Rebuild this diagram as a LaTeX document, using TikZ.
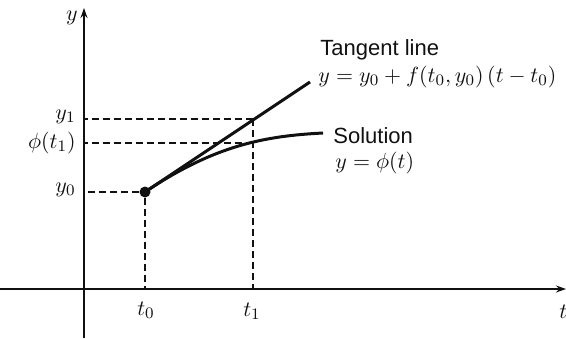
\documentclass[tikz,border=0pt]{standalone}
\usepackage{fontspec}
\setmainfont{Liberation Sans}
\usepackage{tikz}
\usetikzlibrary{arrows.meta,positioning,calc}
\definecolor{EulerInk}{HTML}{111111}
\tikzset{
  axisline/.style={EulerInk,line width=0.7pt,-{Stealth[length=5pt,width=3.5pt]}},
  guide/.style={EulerInk,line width=0.8pt,dash pattern=on 3.5pt off 2pt},
  curveline/.style={EulerInk,line width=1.5pt},
  lbl/.style={text=EulerInk,font=\fontsize{11}{13}\selectfont,inner sep=1pt}
}
\begin{document}
\begin{tikzpicture}[x=0.5pt,y=-0.5pt]
\useasboundingbox (0,0) rectangle (566,338);
% axes
\coordinate (o) at (84,289);
\coordinate (ybot) at (84,338);
\coordinate (ytop) at (84,8);
\coordinate (xl) at (0,289);
\coordinate (xr) at (566,289);
\draw[axisline] (ybot)--(ytop);
\draw[axisline] (xl)--(xr);
\node[lbl,anchor=east] (ylab) at (80,18) {$y$};
\node[lbl,anchor=west] (tlab) at (557,312) {$t$};
% points
\node[circle,fill=EulerInk,inner sep=0,minimum size=5.5pt] (p) at (145,192) {};
\coordinate (q1) at (253,119);
\coordinate (s1) at (253,143);
\coordinate (tend) at (310,82);
\coordinate (send) at (323,133);
% guides
\draw[guide] (p)--(p|-o);
\draw[guide] (p)--(p-|o);
\draw[guide] (q1)--(q1|-o);
\draw[guide] (q1)--(q1-|o);
\draw[guide] (s1)--(s1-|o);
% tangent and solution
\draw[curveline] (p.center)--(tend);
\draw[curveline] (p.center) .. controls (215,145) and (265,136) .. (send);
% axis labels
\node[lbl,anchor=east] (y1lab) at (78,117) {$y_1$};
\node[lbl,anchor=east] (philab) at (78,143) {$\phi(t_1)$};
\node[lbl,anchor=east] (y0lab) at (78,190) {$y_0$};
\node[lbl] (t0lab) at (146,310) {$t_0$};
\node[lbl] (t1lab) at (252,311) {$t_1$};
% curve labels
\node[lbl,anchor=west] (tanlab) at (318,50) {Tangent line};
\node[lbl,anchor=west] (taneq) at (316,77) {$y=y_0+f(t_0,y_0)\,(t-t_0)$};
\node[lbl,anchor=west] (sollab) at (331,136) {Solution};
\node[lbl,anchor=west] (soleq) at (333,163) {$y=\phi(t)$};
\end{tikzpicture}
\end{document}
